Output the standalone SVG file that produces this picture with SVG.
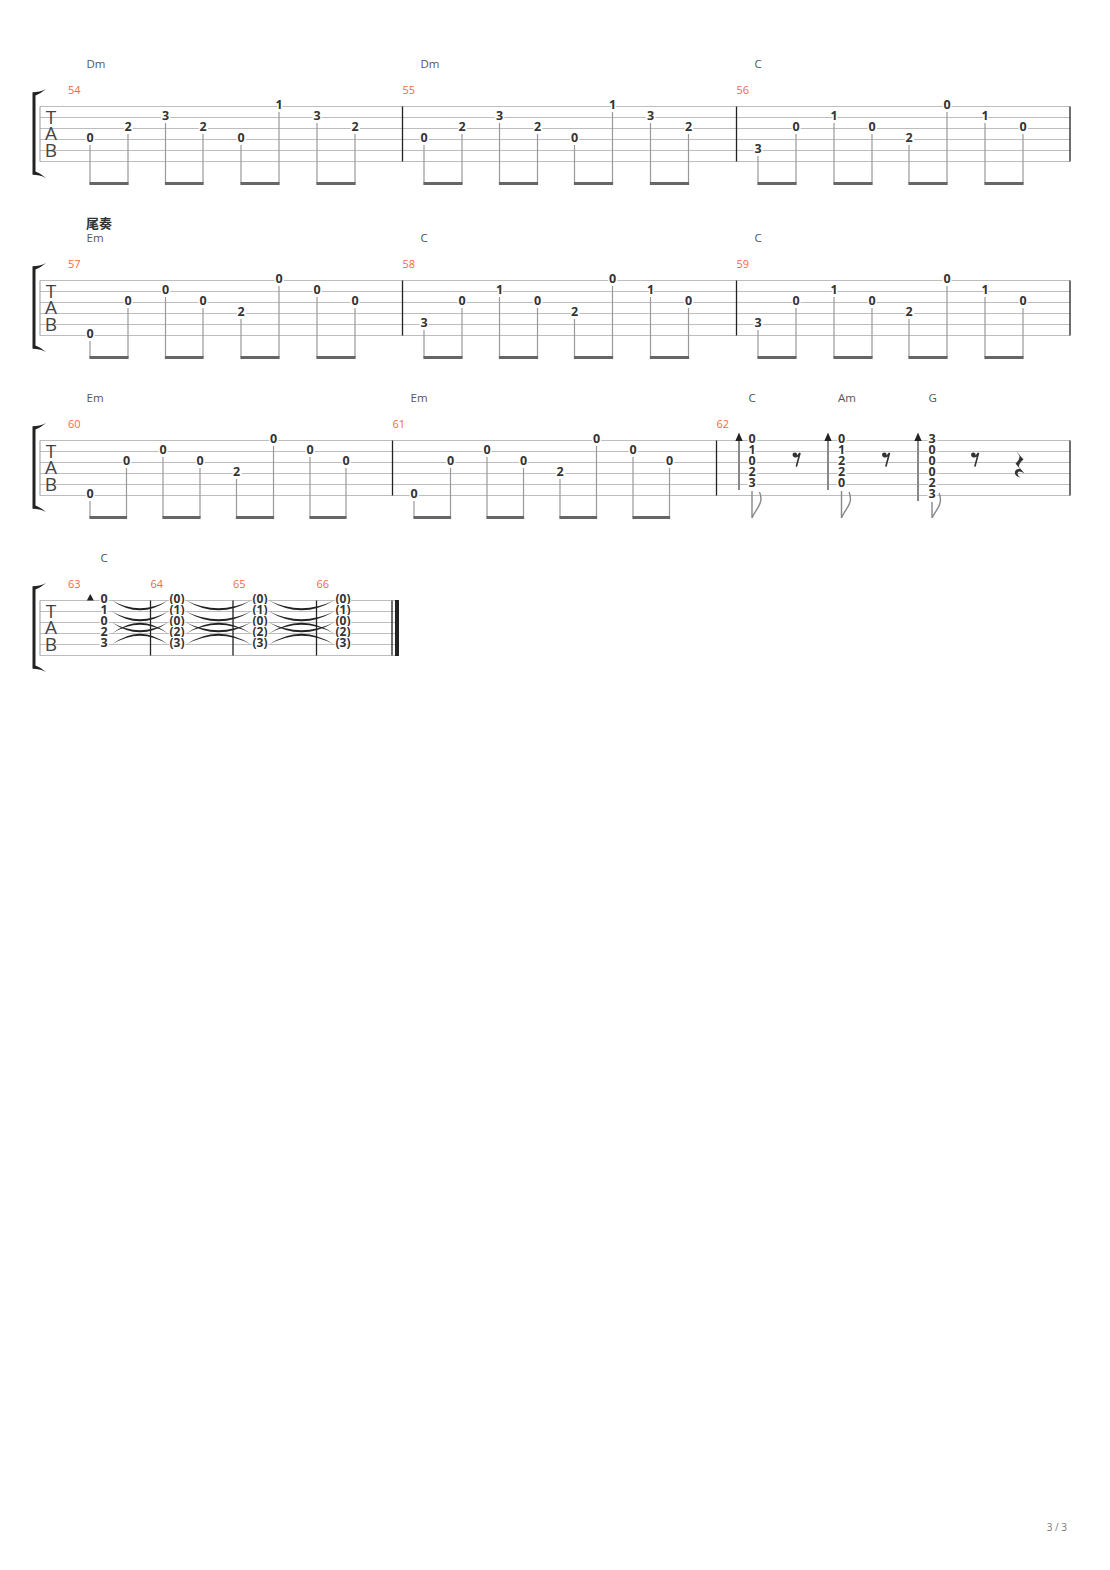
<svg xmlns="http://www.w3.org/2000/svg" xmlns:xlink="http://www.w3.org/1999/xlink" width="1110" height="1570" viewBox="0 0 1110 1570">
<style>
.bg{fill:#fff}
.sl{stroke:#bdbdbd;stroke-width:1;fill:none}
.bar{stroke:#222;stroke-width:1.3}
.lb{stroke:#999;stroke-width:1}
.n{font-family:"Open Sans","Liberation Sans",sans-serif;font-size:12.5px;font-weight:700;fill:#333;text-anchor:middle;stroke:#fff;stroke-width:3;paint-order:stroke}
.p{font-family:"Open Sans","Liberation Sans",sans-serif;font-size:12px;font-weight:700;fill:#333;text-anchor:middle;stroke:#fff;stroke-width:2;paint-order:stroke}
.ch{font-family:"Open Sans","Liberation Sans",sans-serif;font-size:11.5px;fill:#555}
.mn{font-family:"Open Sans","Liberation Sans",sans-serif;font-size:11px;fill:#f26b3c}
.tab{font-family:"Open Sans","Liberation Sans",sans-serif;font-size:19px;fill:#444;text-anchor:middle}
.sec{font-family:"Open Sans","Noto Sans CJK SC",sans-serif;font-size:13px;font-weight:700;fill:#333}
.stem{stroke:#999;stroke-width:1.2;fill:none}
.beam{fill:#666}
.flag{stroke:#888;stroke-width:1.4;fill:none}
.arr{stroke:#888;stroke-width:2}
.hd{fill:#222}
.tie{fill:#222}
.rest{fill:none;stroke:#333;stroke-width:1.6;stroke-linecap:round}
.pg{font-family:"Open Sans","Liberation Sans",sans-serif;font-size:10px;fill:#777;text-anchor:end}
</style>
<defs>
<g id="lines6">
<path class="sl" d="M40,0H1070M40,11H1070M40,22H1070M40,33H1070M40,44H1070M40,55H1070"/>
</g>
<g id="clef">
<line class="lb" x1="40" y1="0" x2="40" y2="55"/>
<rect x="32.5" y="-14" width="3" height="82" fill="#222"/>
<path d="M32.5,-14 C37,-14.5 42,-15 46,-17.5 C42,-14 38,-12 35.5,-11 Z" fill="#222"/>
<path d="M32.5,68 C37,68.5 42,69 46,71.5 C42,68 38,66 35.5,65 Z" fill="#222"/>
<text class="tab" x="51" y="17">T</text>
<text class="tab" x="51" y="33">A</text>
<text class="tab" x="51" y="50">B</text>
</g>
</defs>
<rect class="bg" x="0" y="0" width="1110" height="1570"/>

<!-- ================= SYSTEM 1 ================= -->
<g id="system1">
<use xlink:href="#lines6" href="#lines6" x="0" y="106.5"/>
<use xlink:href="#clef" href="#clef" x="0" y="106.5"/>
<line class="bar" x1="402.5" y1="106.5" x2="402.5" y2="161.5"/>
<line class="bar" x1="736.5" y1="106.5" x2="736.5" y2="161.5"/>
<line class="bar" x1="1070" y1="106.5" x2="1070" y2="161.5"/>
<g id="m54">
<text class="ch" x="86.5" y="68">Dm</text>
<text class="mn" x="68" y="94">54</text>
<path class="stem" d="M90,145V183M128,134V183M165.5,123V183M203,134V183M241,145V183M279,112V183M317,123V183M355,134V183"/>
<rect class="beam" x="89.4" y="182" width="39.2" height="3"/>
<rect class="beam" x="164.9" y="182" width="38.7" height="3"/>
<rect class="beam" x="240.4" y="182" width="39.2" height="3"/>
<rect class="beam" x="316.4" y="182" width="39.2" height="3"/>
<text class="n" x="90" y="142">0</text>
<text class="n" x="128" y="131">2</text>
<text class="n" x="165.5" y="120">3</text>
<text class="n" x="203" y="131">2</text>
<text class="n" x="241" y="142">0</text>
<text class="n" x="279" y="109">1</text>
<text class="n" x="317" y="120">3</text>
<text class="n" x="355" y="131">2</text>
</g>
<g id="m55">
<text class="ch" x="420.5" y="68">Dm</text>
<text class="mn" x="402.5" y="94">55</text>
<path class="stem" d="M424,145V183M462,134V183M499.5,123V183M537.5,134V183M574.5,145V183M612.5,112V183M650.5,123V183M688.5,134V183"/>
<rect class="beam" x="423.4" y="182" width="39.2" height="3"/>
<rect class="beam" x="498.9" y="182" width="39.2" height="3"/>
<rect class="beam" x="573.9" y="182" width="39.2" height="3"/>
<rect class="beam" x="649.9" y="182" width="39.2" height="3"/>
<text class="n" x="424" y="142">0</text>
<text class="n" x="462" y="131">2</text>
<text class="n" x="499.5" y="120">3</text>
<text class="n" x="537.5" y="131">2</text>
<text class="n" x="574.5" y="142">0</text>
<text class="n" x="612.5" y="109">1</text>
<text class="n" x="650.5" y="120">3</text>
<text class="n" x="688.5" y="131">2</text>
</g>
<g id="m56">
<text class="ch" x="754.5" y="68">C</text>
<text class="mn" x="736.5" y="94">56</text>
<path class="stem" d="M758,156V183M796,134V183M834,123V183M872,134V183M909,145V183M947,112V183M985,123V183M1023,134V183"/>
<rect class="beam" x="757.4" y="182" width="39.2" height="3"/>
<rect class="beam" x="833.4" y="182" width="39.2" height="3"/>
<rect class="beam" x="908.4" y="182" width="39.2" height="3"/>
<rect class="beam" x="984.4" y="182" width="39.2" height="3"/>
<text class="n" x="758" y="153">3</text>
<text class="n" x="796" y="131">0</text>
<text class="n" x="834" y="120">1</text>
<text class="n" x="872" y="131">0</text>
<text class="n" x="909" y="142">2</text>
<text class="n" x="947" y="109">0</text>
<text class="n" x="985" y="120">1</text>
<text class="n" x="1023" y="131">0</text>
</g>
</g>

<!-- ================= SYSTEM 2 ================= -->
<g id="system2">
<use xlink:href="#lines6" href="#lines6" x="0" y="280.5"/>
<use xlink:href="#clef" href="#clef" x="0" y="280.5"/>
<line class="bar" x1="402.5" y1="280.5" x2="402.5" y2="335.5"/>
<line class="bar" x1="736.5" y1="280.5" x2="736.5" y2="335.5"/>
<line class="bar" x1="1070" y1="280.5" x2="1070" y2="335.5"/>
<text class="sec" x="86" y="227.5">尾奏</text>
<g id="m57">
<text class="ch" x="86.5" y="242">Em</text>
<text class="mn" x="68" y="268">57</text>
<path class="stem" d="M90,341V357M128,308V357M165.5,297V357M203,308V357M241,319V357M279,286V357M317,297V357M355,308V357"/>
<rect class="beam" x="89.4" y="356" width="39.2" height="3"/>
<rect class="beam" x="164.9" y="356" width="38.7" height="3"/>
<rect class="beam" x="240.4" y="356" width="39.2" height="3"/>
<rect class="beam" x="316.4" y="356" width="39.2" height="3"/>
<text class="n" x="90" y="338">0</text>
<text class="n" x="128" y="305">0</text>
<text class="n" x="165.5" y="294">0</text>
<text class="n" x="203" y="305">0</text>
<text class="n" x="241" y="316">2</text>
<text class="n" x="279" y="283">0</text>
<text class="n" x="317" y="294">0</text>
<text class="n" x="355" y="305">0</text>
</g>
<g id="m58">
<text class="ch" x="420.5" y="242">C</text>
<text class="mn" x="402.5" y="268">58</text>
<path class="stem" d="M424,330V357M462,308V357M499.5,297V357M537.5,308V357M574.5,319V357M612.5,286V357M650.5,297V357M688.5,308V357"/>
<rect class="beam" x="423.4" y="356" width="39.2" height="3"/>
<rect class="beam" x="498.9" y="356" width="39.2" height="3"/>
<rect class="beam" x="573.9" y="356" width="39.2" height="3"/>
<rect class="beam" x="649.9" y="356" width="39.2" height="3"/>
<text class="n" x="424" y="327">3</text>
<text class="n" x="462" y="305">0</text>
<text class="n" x="499.5" y="294">1</text>
<text class="n" x="537.5" y="305">0</text>
<text class="n" x="574.5" y="316">2</text>
<text class="n" x="612.5" y="283">0</text>
<text class="n" x="650.5" y="294">1</text>
<text class="n" x="688.5" y="305">0</text>
</g>
<g id="m59">
<text class="ch" x="754.5" y="242">C</text>
<text class="mn" x="736.5" y="268">59</text>
<path class="stem" d="M758,330V357M796,308V357M834,297V357M872,308V357M909,319V357M947,286V357M985,297V357M1023,308V357"/>
<rect class="beam" x="757.4" y="356" width="39.2" height="3"/>
<rect class="beam" x="833.4" y="356" width="39.2" height="3"/>
<rect class="beam" x="908.4" y="356" width="39.2" height="3"/>
<rect class="beam" x="984.4" y="356" width="39.2" height="3"/>
<text class="n" x="758" y="327">3</text>
<text class="n" x="796" y="305">0</text>
<text class="n" x="834" y="294">1</text>
<text class="n" x="872" y="305">0</text>
<text class="n" x="909" y="316">2</text>
<text class="n" x="947" y="283">0</text>
<text class="n" x="985" y="294">1</text>
<text class="n" x="1023" y="305">0</text>
</g>
</g>

<!-- ================= SYSTEM 3 ================= -->
<g id="system3">
<use xlink:href="#lines6" href="#lines6" x="0" y="440.5"/>
<use xlink:href="#clef" href="#clef" x="0" y="440.5"/>
<line class="bar" x1="392.5" y1="440.5" x2="392.5" y2="495.5"/>
<line class="bar" x1="716.5" y1="440.5" x2="716.5" y2="495.5"/>
<line class="bar" x1="1070" y1="440.5" x2="1070" y2="495.5"/>
<g id="m60">
<text class="ch" x="86.5" y="402">Em</text>
<text class="mn" x="68" y="428">60</text>
<path class="stem" d="M90,501V517M126.5,468V517M163,457V517M200,468V517M236.5,479V517M273.5,446V517M310,457V517M346,468V517"/>
<rect class="beam" x="89.4" y="516" width="37.7" height="3"/>
<rect class="beam" x="162.4" y="516" width="38.2" height="3"/>
<rect class="beam" x="235.9" y="516" width="38.2" height="3"/>
<rect class="beam" x="309.4" y="516" width="37.2" height="3"/>
<text class="n" x="90" y="498">0</text>
<text class="n" x="126.5" y="465">0</text>
<text class="n" x="163" y="454">0</text>
<text class="n" x="200" y="465">0</text>
<text class="n" x="236.5" y="476">2</text>
<text class="n" x="273.5" y="443">0</text>
<text class="n" x="310" y="454">0</text>
<text class="n" x="346" y="465">0</text>
</g>
<g id="m61">
<text class="ch" x="410.5" y="402">Em</text>
<text class="mn" x="392.5" y="428">61</text>
<path class="stem" d="M414,501V517M450.5,468V517M487,457V517M523.5,468V517M560,479V517M596.5,446V517M633,457V517M669.5,468V517"/>
<rect class="beam" x="413.4" y="516" width="37.7" height="3"/>
<rect class="beam" x="486.4" y="516" width="37.7" height="3"/>
<rect class="beam" x="559.4" y="516" width="37.7" height="3"/>
<rect class="beam" x="632.4" y="516" width="37.7" height="3"/>
<text class="n" x="414" y="498">0</text>
<text class="n" x="450.5" y="465">0</text>
<text class="n" x="487" y="454">0</text>
<text class="n" x="523.5" y="465">0</text>
<text class="n" x="560" y="476">2</text>
<text class="n" x="596.5" y="443">0</text>
<text class="n" x="633" y="454">0</text>
<text class="n" x="669.5" y="465">0</text>
</g>
<g id="m62">
<text class="mn" x="716.5" y="428">62</text>
<text class="ch" x="748.5" y="402">C</text>
<text class="ch" x="838" y="402">Am</text>
<text class="ch" x="928.5" y="402">G</text>
<line class="arr" x1="739" y1="440" x2="739" y2="490"/>
<path class="hd" d="M739,432.5L735.3,441L742.7,441Z"/>
<line class="arr" x1="828" y1="440" x2="828" y2="490"/>
<path class="hd" d="M828,432.5L824.3,441L831.7,441Z"/>
<line class="arr" x1="918" y1="440" x2="918" y2="501"/>
<path class="hd" d="M918,432.5L914.3,441L921.7,441Z"/>
<path class="flag" d="M752,491V518M752,518C755,510 761,506 761,499C761,496 760.5,494 759.5,492"/>
<path class="flag" d="M841.5,491V518M841.5,518C844.5,510 850.5,506 850.5,499C850.5,496 850,494 849,492"/>
<path class="flag" d="M932,502V518M932,518C935,511 940.5,507 940.5,500C940.5,497 940,495 939,493"/>
<text class="n" x="752" y="443">0</text>
<text class="n" x="752" y="454">1</text>
<text class="n" x="752" y="465">0</text>
<text class="n" x="752" y="476">2</text>
<text class="n" x="752" y="487">3</text>
<text class="n" x="841.5" y="443">0</text>
<text class="n" x="841.5" y="454">1</text>
<text class="n" x="841.5" y="465">2</text>
<text class="n" x="841.5" y="476">2</text>
<text class="n" x="841.5" y="487">0</text>
<text class="n" x="932" y="443">3</text>
<text class="n" x="932" y="454">0</text>
<text class="n" x="932" y="465">0</text>
<text class="n" x="932" y="476">0</text>
<text class="n" x="932" y="487">2</text>
<text class="n" x="932" y="498">3</text>
<circle cx="794.8" cy="454.8" r="2.3" fill="#333"/>
<path class="rest" d="M794.5,456.5Q797.5,457.5 800,453L796.5,466"/>
<circle cx="884.3" cy="454.8" r="2.3" fill="#333"/>
<path class="rest" d="M884,456.5Q887,457.5 889.5,453L886,466"/>
<circle cx="973.3" cy="454.8" r="2.3" fill="#333"/>
<path class="rest" d="M973,456.5Q976,457.5 978.5,453L975,466"/>
<path d="M1016.5,451.5L1023.5,459.5Q1018.5,463.5 1019,467L1024.5,473.5Q1019,470 1017.5,473Q1017,475.5 1020.5,477.5Q1014,476 1015,471.5Q1016,468.5 1020,469L1015.5,463.5Q1020,460 1019.5,456Z" fill="#333"/>
</g>
</g>

<!-- ================= SYSTEM 4 ================= -->
<g id="system4">
<path class="sl" d="M40,600.5H399M40,611.5H399M40,622.5H399M40,633.5H399M40,644.5H399M40,655.5H399"/>
<use xlink:href="#clef" href="#clef" x="0" y="600.5"/>
<line class="bar" x1="150.5" y1="600.5" x2="150.5" y2="655.5"/>
<line class="bar" x1="233" y1="600.5" x2="233" y2="655.5"/>
<line class="bar" x1="316.5" y1="600.5" x2="316.5" y2="655.5"/>
<line class="bar" x1="392" y1="600.5" x2="392" y2="655.5"/>
<rect x="395" y="600" width="4" height="56" fill="#222"/>
<text class="ch" x="100.5" y="562">C</text>
<text class="mn" x="68" y="588">63</text>
<text class="mn" x="150.5" y="588">64</text>
<text class="mn" x="233" y="588">65</text>
<text class="mn" x="316.5" y="588">66</text>
<path class="hd" d="M90.3,594L86.8,600.5L93.8,600.5Z"/>
<g id="ties">
<path class="tie" d="M112,600.5Q140,620 168,600.5Q140,616 112,600.5Z"/>
<path class="tie" d="M112,611.5Q140,631 168,611.5Q140,627 112,611.5Z"/>
<path class="tie" d="M112,622.5Q140,642 168,622.5Q140,638 112,622.5Z"/>
<path class="tie" d="M112,633.5Q140,612 168,633.5Q140,616 112,633.5Z"/>
<path class="tie" d="M112,644.5Q140,623 168,644.5Q140,627 112,644.5Z"/>
<path class="tie" d="M186,600.5Q218.5,620 251,600.5Q218.5,616 186,600.5Z"/>
<path class="tie" d="M186,611.5Q218.5,631 251,611.5Q218.5,627 186,611.5Z"/>
<path class="tie" d="M186,622.5Q218.5,642 251,622.5Q218.5,638 186,622.5Z"/>
<path class="tie" d="M186,633.5Q218.5,612 251,633.5Q218.5,616 186,633.5Z"/>
<path class="tie" d="M186,644.5Q218.5,623 251,644.5Q218.5,627 186,644.5Z"/>
<path class="tie" d="M269,600.5Q301.5,620 334,600.5Q301.5,616 269,600.5Z"/>
<path class="tie" d="M269,611.5Q301.5,631 334,611.5Q301.5,627 269,611.5Z"/>
<path class="tie" d="M269,622.5Q301.5,642 334,622.5Q301.5,638 269,622.5Z"/>
<path class="tie" d="M269,633.5Q301.5,612 334,633.5Q301.5,616 269,633.5Z"/>
<path class="tie" d="M269,644.5Q301.5,623 334,644.5Q301.5,627 269,644.5Z"/>
</g>
<g id="m63">
<text class="n" x="104" y="603">0</text>
<text class="n" x="104" y="614">1</text>
<text class="n" x="104" y="625">0</text>
<text class="n" x="104" y="636">2</text>
<text class="n" x="104" y="647">3</text>
</g>
<g id="m64">
<text class="p" x="177" y="603">(0)</text>
<text class="p" x="177" y="614">(1)</text>
<text class="p" x="177" y="625">(0)</text>
<text class="p" x="177" y="636">(2)</text>
<text class="p" x="177" y="647">(3)</text>
</g>
<g id="m65">
<text class="p" x="260" y="603">(0)</text>
<text class="p" x="260" y="614">(1)</text>
<text class="p" x="260" y="625">(0)</text>
<text class="p" x="260" y="636">(2)</text>
<text class="p" x="260" y="647">(3)</text>
</g>
<g id="m66">
<text class="p" x="343" y="603">(0)</text>
<text class="p" x="343" y="614">(1)</text>
<text class="p" x="343" y="625">(0)</text>
<text class="p" x="343" y="636">(2)</text>
<text class="p" x="343" y="647">(3)</text>
</g>
</g>

<text class="pg" x="1067" y="1530.5">3 / 3</text>
</svg>
